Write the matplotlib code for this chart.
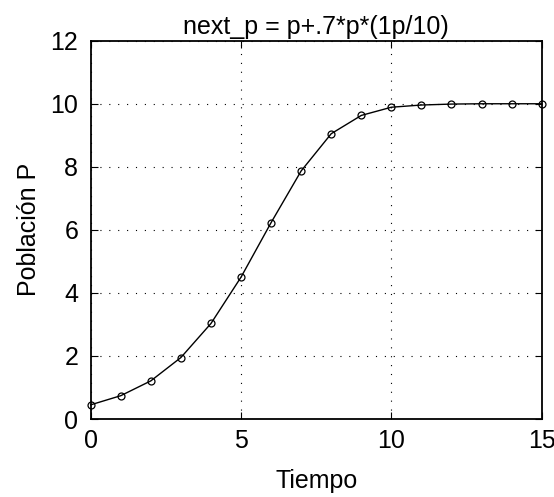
import matplotlib
matplotlib.use('Agg')
import matplotlib.pyplot as plt

# Data
tiempo = [0, 1, 2, 3, 4, 5, 6, 7, 8, 9, 10, 11, 12, 13, 14, 15]
poblacion = [0.45, 0.74, 1.21, 1.95, 3.03, 4.50, 6.23, 7.87, 9.05, 9.63,
             9.89, 9.96, 9.99, 10.0, 10.0, 10.0]
xticks = [0, 5, 10, 15]
yticks = [0, 2, 4, 6, 8, 10, 12]

def main():
    plt.rcParams['font.family'] = ['Liberation Sans', 'DejaVu Sans']
    fig = plt.figure(figsize=(5.54, 4.97), dpi=100)
    ax = fig.add_axes([0.1637, 0.1569, 0.8141, 0.7612])

    ax.plot(tiempo, poblacion, '-o', color='black', lw=1,
            markersize=5, markerfacecolor='none', markeredgewidth=0.9,
            clip_on=False, zorder=3)

    ax.set_xlim(0, 15)
    ax.set_ylim(0, 12)
    ax.set_xticks(xticks)
    ax.set_yticks(yticks)
    ax.tick_params(direction='in', length=5, width=0.8, labelsize=18,
                   top=True, right=True)
    ax.tick_params(axis='x', pad=7)
    ax.tick_params(axis='y', pad=9)
    ax.grid(True, color='black', linestyle=(0, (1, 7)), linewidth=0.8)
    for s in ax.spines.values():
        s.set_linewidth(1.3)

    ax.set_xlabel('Tiempo', fontsize=18, labelpad=12)
    ax.set_ylabel('Población P', fontsize=18, labelpad=7)
    ax.set_title('next_p = p+.7*p*(1p/10)', fontsize=18, pad=5)

    fig.savefig('out.png', dpi=100)

if __name__ == "__main__":
    main()
